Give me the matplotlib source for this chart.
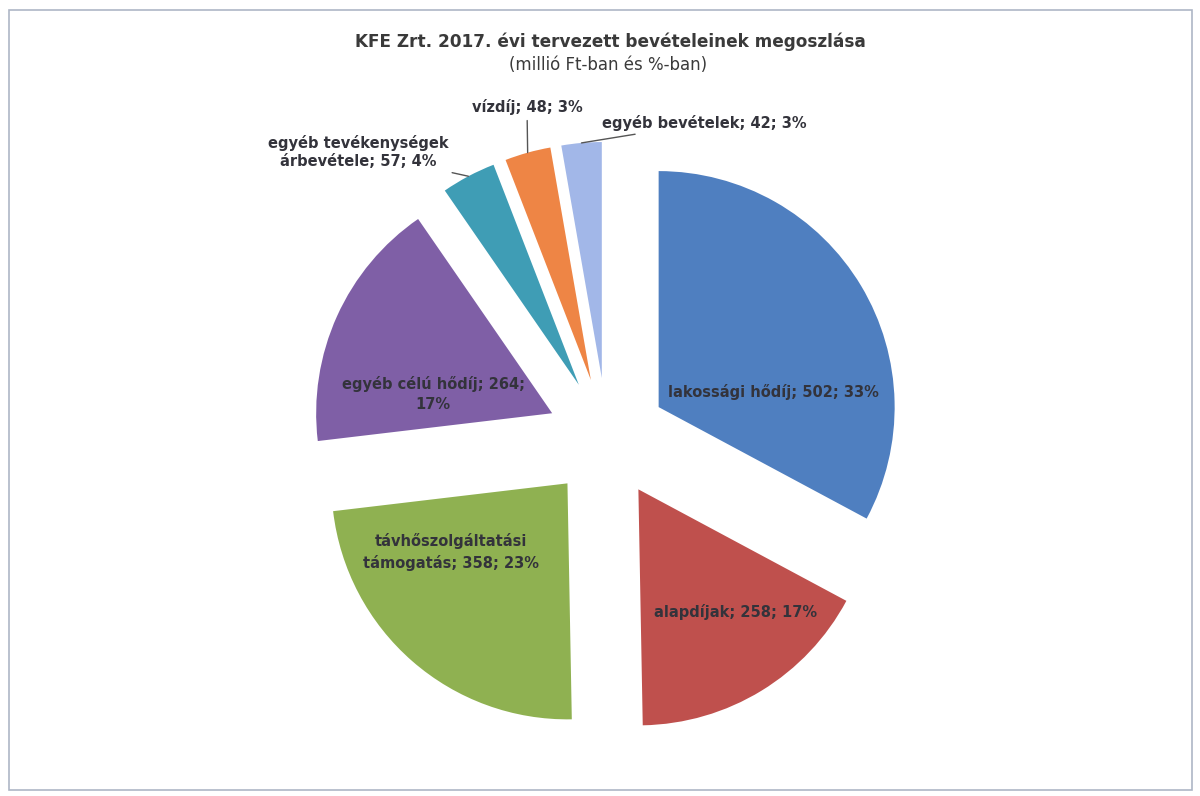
import numpy as np
import matplotlib.pyplot as plt
from matplotlib.patches import Rectangle

plt.rcParams['font.family'] = ['DejaVu Sans']

labels = ['lakossági hődíj', 'alapdíjak', 'távhőszolgáltatási\ntámogatás',
          'egyéb célú hődíj', 'egyéb tevékenységek\nárbevétele', 'vízdíj',
          'egyéb bevételek']
values = [502, 258, 358, 264, 57, 48, 42]
percents = [33, 17, 23, 17, 4, 3, 3]
colors = ['#4F7FC0', '#BF504D', '#8FB151', '#7F5FA6', '#3F9DB5', '#EE8545', '#A2B7E8']

title = 'KFE Zrt. 2017. évi tervezett bevételeinek megoszlása'
subtitle = '(millió Ft-ban és %-ban)'

# label texts as they appear in the chart (line breaks by hand)
texts = ['lakossági hődíj; 502; 33%',
         'alapdíjak; 258; 17%',
         'távhőszolgáltatási\ntámogatás; 358; 23%',
         'egyéb célú hődíj; 264;\n17%',
         'egyéb tevékenységek\nárbevétele; 57; 4%',
         'vízdíj; 48; 3%',
         'egyéb bevételek; 42; 3%']

W, H = 1200, 796
fig = plt.figure(figsize=(12, 7.96), dpi=100)
ax = fig.add_axes([0, 0, 1, 1])
ax.set_xlim(0, W)
ax.set_ylim(0, H)
ax.set_aspect('equal')
ax.axis('off')

ax.add_patch(Rectangle((9, 6), 1183, 780, fill=False, edgecolor='#aeb6c6', lw=1.2))

cx, cy, R = 607, H - 438, 236
# explode in pie is in data units here, so scale by radius
wedges, _ = ax.pie(values, colors=colors, startangle=90, counterclock=False,
                   explode=[0.255 * R] * len(values), center=(cx, cy), radius=R,
                   wedgeprops=dict(linewidth=0))
ax.set_xlim(0, W)
ax.set_ylim(0, H)

ax.text(610, H - 42, title, ha='center', va='center', fontsize=12.2,
        fontweight='bold', color='#3a3a3a')
ax.text(608, H - 65, subtitle, ha='center', va='center', fontsize=12,
        color='#3a3a3a')

lab_col = '#33333b'
inside = {0: (773, 392), 1: (736, 612), 2: (451, 552), 3: (433, 394)}
for i, (x, y) in inside.items():
    ax.text(x, H - y, texts[i], ha='center', va='center', fontsize=10.5,
            fontweight='bold', color=lab_col, linespacing=1.45)

outside = {4: ((358, 152), 'center'), 5: ((527, 107), 'center'),
           6: ((602, 123), 'left')}
for i, ((x, y), ha) in outside.items():
    w = wedges[i]
    mid = np.deg2rad((w.theta1 + w.theta2) / 2)
    px = w.center[0] + w.r * np.cos(mid)
    py = w.center[1] + w.r * np.sin(mid)
    ax.annotate(texts[i], xy=(px, py), xytext=(x, H - y), ha=ha, va='center',
                fontsize=10.5, fontweight='bold', color=lab_col,
                multialignment='center', linespacing=1.3,
                arrowprops=dict(arrowstyle='-', color='#555555', lw=1,
                                shrinkA=2, shrinkB=0))

fig.savefig('out.png', dpi=100, facecolor='white')
